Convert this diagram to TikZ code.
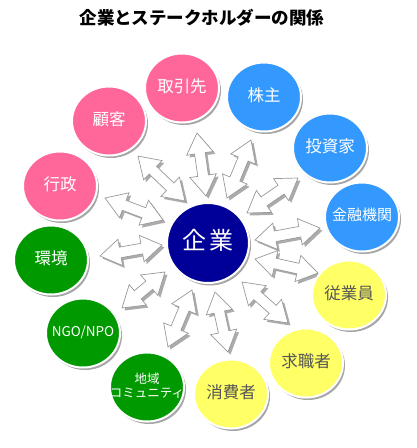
\documentclass[tikz,border=0pt]{standalone}
\usepackage{fontspec}
\newfontfamily\jp{Noto Sans CJK JP}
\usetikzlibrary{shapes.geometric,shapes.arrows,shadows,calc}
\definecolor{cpink}{HTML}{FF6699}
\definecolor{cblue}{HTML}{3399FF}
\definecolor{cgreen}{HTML}{009900}
\definecolor{cnavy}{HTML}{000099}
\definecolor{cyel}{HTML}{FFFF66}
\definecolor{ctxt}{HTML}{555555}
\newcommand\dblarr[3]{%
  \path let \p1=($(#3)-(#2)$), \n1={veclen(\x1,\y1)} in
    ($(#2)+(2.5,2.5)$) -- ($(#3)+(2.5,2.5)$) node[midway,sloped,arwsh,minimum height=\n1]{}
    (#2) -- (#3) node[midway,sloped,arw,minimum height=\n1] (#1) {};}
\newcommand\lbl[1]{\makebox[0pt][c]{\begin{tabular}{@{}c@{}}#1\end{tabular}}}
\begin{document}
\begin{tikzpicture}[x=1pt,y=-1pt,
  circ/.style={ellipse, minimum width=74pt, minimum height=69pt, draw=white, line width=2pt,
    drop shadow={shadow xshift=2pt,shadow yshift=-2.5pt,opacity=0.35,fill=black},
    inner sep=0pt, align=center, font=\jp\fontsize{16.5}{18}\selectfont},
  pinkc/.style={circ, fill=cpink, text=white},
  bluec/.style={circ, fill=cblue, text=white},
  greenc/.style={circ, fill=cgreen, text=white},
  yelc/.style={circ, fill=cyel, text=ctxt},
  arwbase/.style={double arrow, inner xsep=0pt, inner ysep=5pt, double arrow head extend=8pt, double arrow tip angle=66},
  arw/.style={arwbase, draw=black!40, fill=white, line width=0.7pt},
  arwsh/.style={arwbase, fill=black, opacity=0.33, draw=none}]
\useasboundingbox (0,0) rectangle (417,448);
\node[font=\jp\bfseries\fontsize{17.5}{19}\selectfont] (title) at (202,18) {企業とステークホルダーの関係};

% arrow end points
\coordinate (a1s) at (138,156); \coordinate (a1e) at (185,201);
\coordinate (a2s) at (197,133); \coordinate (a2e) at (206,196);
\coordinate (a3s) at (251,140); \coordinate (a3e) at (227,198);
\coordinate (a4s) at (247,213); \coordinate (a4e) at (298,178);
\coordinate (a5s) at (255,240); \coordinate (a5e) at (320,228);
\coordinate (a6s) at (255,259); \coordinate (a6e) at (318,273);
\coordinate (a7s) at (242,282); \coordinate (a7e) at (288,323);
\coordinate (a8s) at (215,292); \coordinate (a8e) at (228,352);
\coordinate (a9s) at (192,290); \coordinate (a9e) at (168,347);
\coordinate (a10s) at (165,272); \coordinate (a10e) at (122,308);
\coordinate (a11s) at (100,256); \coordinate (a11e) at (162,245);
\coordinate (a12s) at (105,198); \coordinate (a12e) at (163,220);
\dblarr{ar1}{a1s}{a1e}
\dblarr{ar2}{a2s}{a2e}
\dblarr{ar3}{a3s}{a3e}
\dblarr{ar4}{a4s}{a4e}
\dblarr{ar5}{a5s}{a5e}
\dblarr{ar6}{a6s}{a6e}
\dblarr{ar7}{a7s}{a7e}
\dblarr{ar8}{a8s}{a8e}
\dblarr{ar9}{a9s}{a9e}
\dblarr{ar10}{a10s}{a10e}
\dblarr{ar11}{a11s}{a11e}
\dblarr{ar12}{a12s}{a12e}

\node[circ, fill=cnavy, text=white, minimum width=82pt, minimum height=80pt,
  font=\jp\fontsize{24}{26}\selectfont] (kigyo) at (208,243) {\lbl{企\,業}};

\node[pinkc] (torihiki) at (182,88) {\lbl{取引先}};
\node[pinkc] (kokyaku) at (109,121) {\lbl{顧客}};
\node[pinkc] (gyosei) at (60,186) {\lbl{行政}};
\node[bluec] (kabunushi) at (264,97) {\lbl{株主}};
\node[bluec] (toshika) at (330,148) {\lbl{投資家}};
\node[bluec, font=\jp\fontsize{15}{17}\selectfont] (kinyu) at (362,217) {\lbl{金融機関}};
\node[yelc] (jugyoin) at (349,295) {\lbl{従業員}};
\node[yelc] (kyushoku) at (306,363) {\lbl{求職者}};
\node[yelc] (shohisha) at (231,394) {\lbl{消費者}};
\node[greenc, font=\jp\fontsize{12.5}{14}\selectfont] (chiiki) at (147,387) {\lbl{地域\\コミュニティ}};
\node[greenc, font=\jp\fontsize{13.5}{15}\selectfont] (ngo) at (83,333) {\lbl{NGO/NPO}};
\node[greenc] (kankyo) at (51,260) {\lbl{環境}};
\end{tikzpicture}
\end{document}
